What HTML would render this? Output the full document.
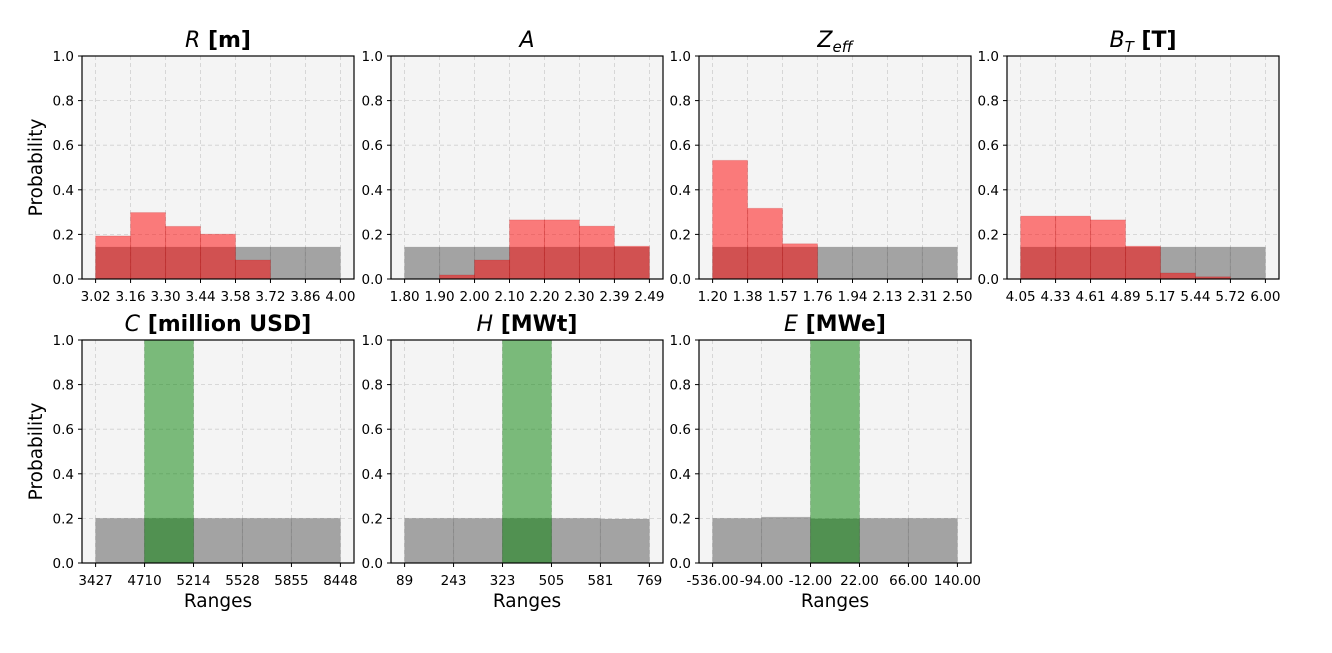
<!DOCTYPE html>
<html><head><meta charset="utf-8"><style>
body{margin:0;background:#fff;width:1332px;height:648px;overflow:hidden}
svg{font-family:"DejaVu Sans","Liberation Sans",sans-serif}
</style></head><body>
<svg id="fig" width="1332" height="648" xmlns="http://www.w3.org/2000/svg"></svg>
<script>
const topTitles = [["R"," [m]"],["A",""],["Z_eff",""],["B_T"," [T]"]];
const topTicks = [
  ["3.02","3.16","3.30","3.44","3.58","3.72","3.86","4.00"],
  ["1.80","1.90","2.00","2.10","2.20","2.30","2.39","2.49"],
  ["1.20","1.38","1.57","1.76","1.94","2.13","2.31","2.50"],
  ["4.05","4.33","4.61","4.89","5.17","5.44","5.72","6.00"]];
const topGray = [
  [0.143,0.143,0.143,0.143,0.143,0.143,0.143],
  [0.143,0.143,0.143,0.143,0.143,0.143,0.143],
  [0.143,0.143,0.143,0.143,0.143,0.143,0.143],
  [0.143,0.143,0.143,0.143,0.143,0.143,0.143]];
const topRed = [
  [0.193,0.298,0.236,0.201,0.085,0,0],
  [0,0.018,0.085,0.265,0.265,0.237,0.147],
  [0.532,0.317,0.158,0,0,0,0],
  [0.282,0.282,0.265,0.147,0.027,0.010,0]];
const botTitles = [["C"," [million USD]"],["H"," [MWt]"],["E"," [MWe]"]];
const botTicks = [
  ["3427","4710","5214","5528","5855","8448"],
  ["89","243","323","505","581","769"],
  ["-536.00","-94.00","-12.00","22.00","66.00","140.00"]];
const botGray = [
  [0.2,0.2,0.2,0.2,0.2],
  [0.2,0.2,0.2,0.2,0.197],
  [0.2,0.205,0.198,0.2,0.2]];
const botGreen = [
  [0,1,0,0,0],
  [0,0,1,0,0],
  [0,0,1,0,0]];

const NS="http://www.w3.org/2000/svg";
const fig=document.getElementById('fig');
function el(tag,attrs,parent){const e=document.createElementNS(NS,tag);for(const k in attrs)e.setAttribute(k,attrs[k]);(parent||fig).appendChild(e);return e;}
const colX=[82,391,699,1007], W=272, H=223;

function panel(px,py,ticks,series,colors,title,name,ylab,xlab){
  const g=el('g',{});
  
  
  const n=ticks.length-1;
  const x0=px+W*0.05, x1=px+W*0.95;
  const xs=i=>x0+(x1-x0)*i/n;
  const ys=v=>py+H-v*H;
  el('rect',{x:px,y:py,width:W,height:H,fill:'#f4f4f4'},g);
  for(let i=0;i<=n;i++) el('line',{x1:xs(i),x2:xs(i),y1:py,y2:py+H,stroke:'#cfcfcf','stroke-dasharray':'4,3','stroke-width':0.8},g);
  const yt=[0,0.2,0.4,0.6,0.8,1.0];
  yt.forEach(v=>{el('line',{x1:px,x2:px+W,y1:ys(v),y2:ys(v),stroke:'#cfcfcf','stroke-dasharray':'4,3','stroke-width':0.8},g);});
  series.forEach((vals,si)=>{
    vals.forEach((v,i)=>{
      if(v<=0)return;
      const r=el('rect',{x:xs(i),y:ys(v),width:xs(i+1)-xs(i),height:ys(0)-ys(v),fill:colors[si][0],'fill-opacity':colors[si][1],stroke:colors[si][2],'stroke-opacity':0.15,'stroke-width':1},g);
      
      
    });
  });
  el('rect',{x:px,y:py,width:W,height:H,fill:'none',stroke:'#000','stroke-width':1.2},g);
  yt.forEach(v=>{
    el('line',{x1:px-4,x2:px,y1:ys(v),y2:ys(v),stroke:'#000'},g);
    const t=el('text',{x:px-8,y:ys(v)+5,'font-size':13.5,'text-anchor':'end'},g);t.textContent=v.toFixed(1);
  });
  ticks.forEach((lab,i)=>{
    el('line',{x1:xs(i),x2:xs(i),y1:py+H,y2:py+H+4,stroke:'#000'},g);
    const t=el('text',{x:xs(i),y:py+H+22,'font-size':13.5,'text-anchor':'middle'},g);t.textContent=lab;
  });
  const tt=el('text',{x:px+W/2,y:py-9,'font-size':22,'text-anchor':'middle'},g);
  
  
  const sym=title[0];
  if(sym.includes('_')){
    const [a,b]=sym.split('_');
    const s1=el('tspan',{'font-style':'italic'},tt);s1.textContent=a;
    const s2=el('tspan',{'font-style':'italic','font-size':15,dy:5},tt);s2.textContent=b;
    if(title[1]){const s3=el('tspan',{'font-weight':'bold',dy:-5},tt);s3.textContent=title[1];}
  } else {
    const s1=el('tspan',{'font-style':'italic'},tt);s1.textContent=sym;
    if(title[1]){const s3=el('tspan',{'font-weight':'bold'},tt);s3.textContent=title[1];}
  }
  if(ylab){
    const t=el('text',{x:0,y:0,'font-size':18.5,'text-anchor':'middle',transform:`translate(42,${py+H/2}) rotate(-90)`},g);
    
    
    t.textContent='Probability';
  }
  if(xlab){
    const t=el('text',{x:px+W/2,y:py+H+44,'font-size':18.5,'text-anchor':'middle'},g);
    
    
    t.textContent='Ranges';
  }
}
const grayC=['#808080',0.7,'#555'], redC=['#ff0000',0.5,'#a00'], greenC=['#008000',0.5,'#060'];
const topNames=['r','a','zeff','bt'], botNames=['c','h','e'];
for(let i=0;i<4;i++) panel(colX[i],56,topTicks[i],[topGray[i],topRed[i]],[grayC,redC],topTitles[i],topNames[i],i===0,false);
for(let i=0;i<3;i++) panel(colX[i],340,botTicks[i],[botGray[i],botGreen[i]],[grayC,greenC],botTitles[i],botNames[i],i===0,true);
</script>
</body></html>
